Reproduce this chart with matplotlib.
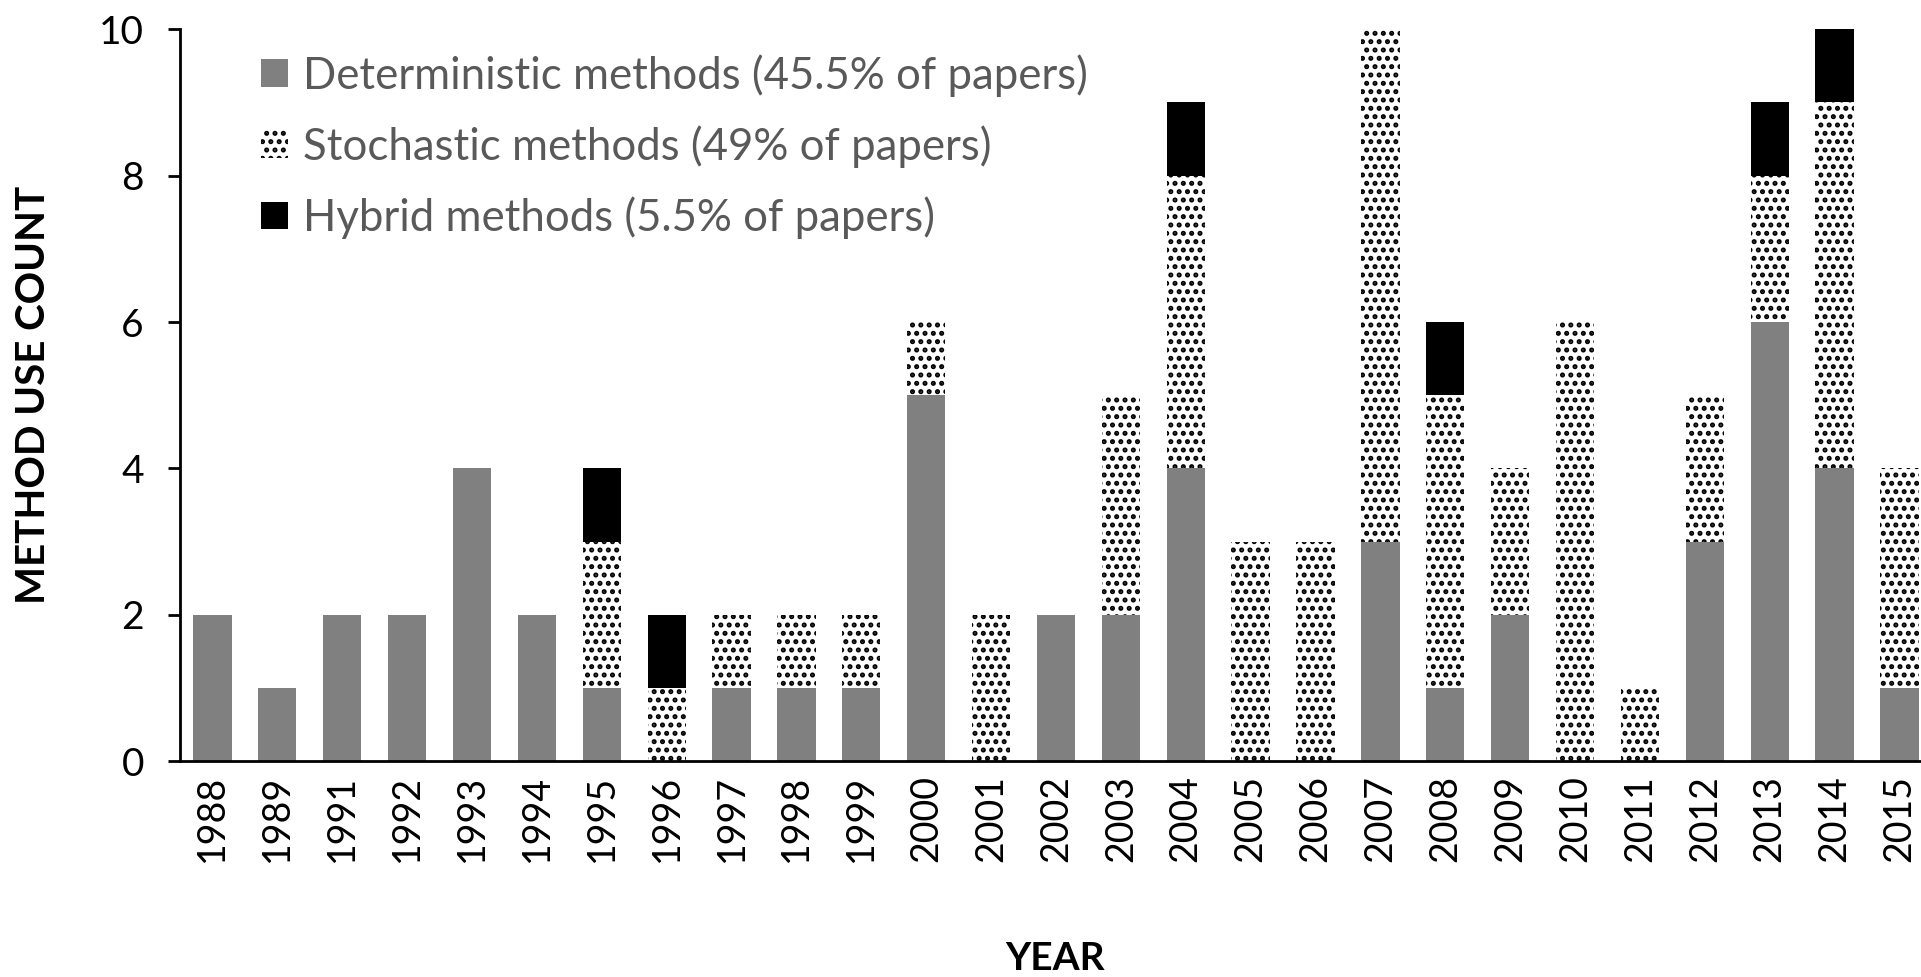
import numpy as np
import matplotlib.pyplot as plt

years = ['1988', '1989', '1991', '1992', '1993', '1994', '1995', '1996', '1997', '1998',
         '1999', '2000', '2001', '2002', '2003', '2004', '2005', '2006', '2007', '2008',
         '2009', '2010', '2011', '2012', '2013', '2014', '2015']
deterministic = [2, 1, 2, 2, 4, 2, 1, 0, 1, 1, 1, 5, 0, 2, 2, 4, 0, 0, 3, 1, 2, 0, 0, 3, 6, 4, 1]
stochastic = [0, 0, 0, 0, 0, 0, 2, 1, 1, 1, 1, 1, 2, 0, 3, 4, 3, 3, 7, 4, 2, 6, 1, 2, 2, 5, 3]
hybrid = [0, 0, 0, 0, 0, 0, 1, 1, 0, 0, 0, 0, 0, 0, 0, 1, 0, 0, 0, 1, 0, 0, 0, 0, 1, 1, 0]
labels = ['Deterministic methods (45.5% of papers)',
          'Stochastic methods (49% of papers)',
          'Hybrid methods (5.5% of papers)']

plt.rcParams['font.family'] = ['Lato', 'DejaVu Sans']
plt.rcParams['hatch.linewidth'] = 2.4

fig = plt.figure(figsize=(19.21, 9.77), dpi=100)
ax = fig.add_axes([0.0937, 0.221, 0.912, 0.749])

x = np.arange(len(years))
d = np.array(deterministic)
s = np.array(stochastic)
h = np.array(hybrid)
w = 0.59
b1 = ax.bar(x, d, w, color='#808080', linewidth=0)
b2 = ax.bar(x, s, w, bottom=d, color='white', edgecolor='black', hatch='..', linewidth=0)
b3 = ax.bar(x, h, w, bottom=d + s, color='black', linewidth=0)

ax.set_xlim(-0.5, len(years) - 0.5)
ax.set_ylim(0, 10)
ax.set_yticks([0, 2, 4, 6, 8, 10])
ax.set_xticks(x)
ax.set_xticklabels(years, rotation=90)
ax.tick_params(axis='x', length=0, labelsize=27, pad=10)
ax.tick_params(axis='y', length=9, width=2, labelsize=28, pad=17)
for sp in ['top', 'right']:
    ax.spines[sp].set_visible(False)
for sp in ['left', 'bottom']:
    ax.spines[sp].set_linewidth(2)

ax.set_ylabel('METHOD USE COUNT', fontsize=29, fontweight='bold')
ax.yaxis.set_label_coords(-0.073, 0.5)
ax.set_xlabel('YEAR', fontsize=28, fontweight='bold')
ax.xaxis.set_label_coords(0.4995, -0.246)

leg = ax.legend([b1, b2, b3], labels, loc='upper left', bbox_to_anchor=(0.024, 1.02),
                frameon=False, fontsize=31.5, handlelength=0.6, handleheight=0.6,
                handletextpad=0.35, labelspacing=0.65)
for t in leg.get_texts():
    t.set_color('#595959')

fig.savefig('out.png', dpi=100)
